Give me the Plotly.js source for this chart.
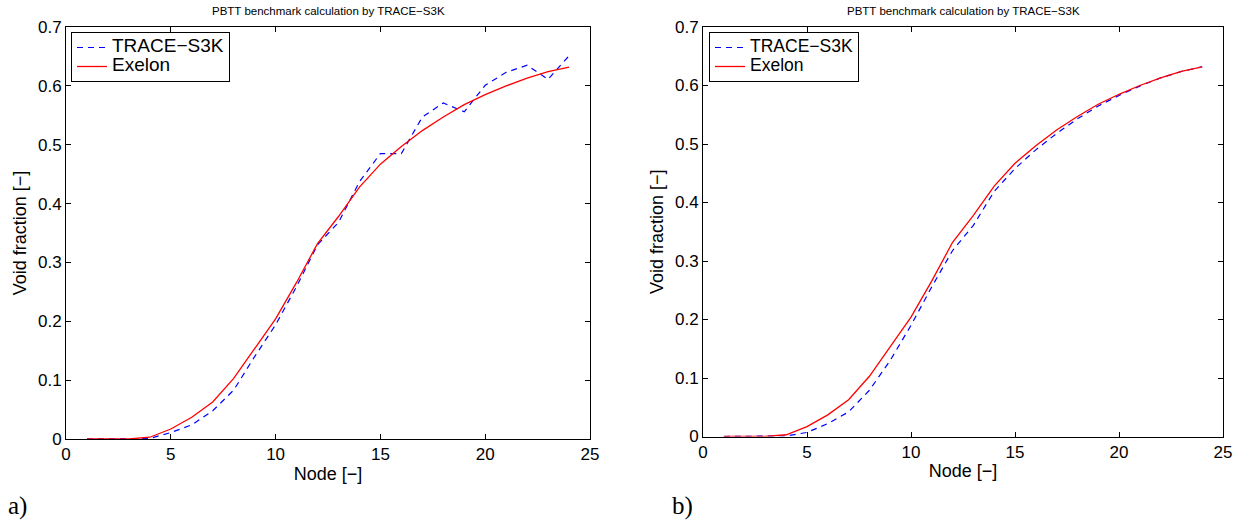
<!DOCTYPE html>
<html>
<head>
<meta charset="utf-8">
<script src="https://cdn.plot.ly/plotly-3.0.1.min.js"></script>
<style>
html,body{margin:0;padding:0;background:#fff;}
#chart{width:1243px;height:525px;}
</style>
</head>
<body>
<div id="chart"></div>
<script>
// Node numbers (x values)
const nodes = [1,2,3,4,5,6,7,8,9,10,11,12,13,14,15,16,17,18,19,20,21,22,23,24];
// Exelon reference void fraction (same in both panels)
const exelon = [0,0,0,0.003,0.017,0.037,0.063,0.103,0.154,0.204,0.266,0.332,0.378,0.428,0.467,0.497,0.524,0.547,0.568,0.585,0.600,0.613,0.624,0.632];
// TRACE-S3K void fraction, panel a)
const traceA = [0,0,0,0.001,0.011,0.024,0.048,0.083,0.140,0.194,0.259,0.330,0.368,0.437,0.485,0.485,0.547,0.571,0.556,0.601,0.623,0.635,0.611,0.651];
// TRACE-S3K void fraction, panel b)
const traceB = [0,0,0,0.001,0.007,0.022,0.042,0.079,0.130,0.190,0.256,0.318,0.361,0.419,0.458,0.490,0.518,0.543,0.565,0.583,0.599,0.613,0.624,0.632];

const seriesNames = ["TRACE−S3K", "Exelon"];
const chartTitle = "PBTT benchmark calculation by TRACE−S3K";
const xTitle = "Node [−]";
const yTitle = "Void fraction [−]";
const panelLabels = ["a)", "b)"];
const xTickVals = [0,5,10,15,20,25];
const yTickVals = [0,0.1,0.2,0.3,0.4,0.5,0.6,0.7];

const FONT = "Liberation Sans, Arial, Helvetica, sans-serif";
const W = 1243, H = 525;
const px = v => v / W;
const py = v => 1 - v / H;

const blueLine = {color: "rgb(0,0,255)", width: 1.2, dash: "6px,5px"};
const redLine = {color: "rgb(255,0,0)", width: 1.3};
const big = (s, size) => '<span style="font-size:' + size + 'px">' + s + '</span>';

const data = [
  {x: nodes, y: traceA, type: "scatter", mode: "lines", name: big(seriesNames[0], 19), line: blueLine, xaxis: "x", yaxis: "y", legend: "legend"},
  {x: nodes, y: exelon, type: "scatter", mode: "lines", name: big(seriesNames[1], 19), line: redLine, xaxis: "x", yaxis: "y", legend: "legend"},
  {x: nodes, y: traceB, type: "scatter", mode: "lines", name: big(seriesNames[0], 17.5), line: blueLine, xaxis: "x2", yaxis: "y2", legend: "legend2"},
  {x: nodes, y: exelon, type: "scatter", mode: "lines", name: big(seriesNames[1], 17.5), line: redLine, xaxis: "x2", yaxis: "y2", legend: "legend2"}
];

function xAxis(domain, anchor) {
  return {
    domain: domain, anchor: anchor, range: [0, 25], tickvals: xTickVals,
    ticks: "inside", ticklen: 5, tickwidth: 1, tickcolor: "#000",
    showline: true, linecolor: "#000", linewidth: 1, mirror: "ticks",
    showgrid: false, zeroline: false,
    tickfont: {family: FONT, size: 17, color: "#000"},
    title: {text: xTitle, font: {family: FONT, size: 18, color: "#000"}, standoff: 3}
  };
}
function yAxis(domain, anchor) {
  return {
    domain: domain, anchor: anchor, range: [0, 0.7], tickvals: yTickVals,
    ticktext: yTickVals.map(v => String(v)),
    ticks: "inside", ticklen: 5, tickwidth: 1, tickcolor: "#000",
    showline: true, linecolor: "#000", linewidth: 1, mirror: "ticks",
    showgrid: false, zeroline: false,
    tickfont: {family: FONT, size: 17, color: "#000"},
    title: {text: yTitle, font: {family: FONT, size: 18, color: "#000"}, standoff: 6}
  };
}

const legendStyle = (x, y) => ({
  x: x, y: y, xanchor: "left", yanchor: "top", xref: "paper", yref: "paper",
  bgcolor: "#fff", bordercolor: "#000", borderwidth: 1,
  font: {family: FONT, size: 12, color: "#000"},
  tracegroupgap: 0, itemwidth: 30
});

const layout = {
  width: W, height: H,
  margin: {l: 0, r: 0, t: 0, b: 0},
  paper_bgcolor: "#fff", plot_bgcolor: "#fff",
  showlegend: true,
  xaxis: xAxis([px(66), px(590)], "y"),
  yaxis: yAxis([py(439), py(27)], "x"),
  xaxis2: xAxis([px(703), px(1223)], "y2"),
  yaxis2: yAxis([py(436.5), py(27)], "x2"),
  legend: legendStyle(px(71), py(32)),
  legend2: legendStyle(px(709), py(32)),
  annotations: [
    {text: chartTitle, xref: "paper", yref: "paper", x: px(328), y: py(11), xanchor: "center", yanchor: "middle", showarrow: false, font: {family: FONT, size: 11.5, color: "#000"}},
    {text: chartTitle, xref: "paper", yref: "paper", x: px(963), y: py(11), xanchor: "center", yanchor: "middle", showarrow: false, font: {family: FONT, size: 11.5, color: "#000"}},
    {text: panelLabels[0], xref: "paper", yref: "paper", x: px(6), y: py(506), xanchor: "left", yanchor: "middle", showarrow: false, font: {family: "Liberation Serif, Times New Roman, serif", size: 25, color: "#000"}},
    {text: panelLabels[1], xref: "paper", yref: "paper", x: px(670), y: py(506), xanchor: "left", yanchor: "middle", showarrow: false, font: {family: "Liberation Serif, Times New Roman, serif", size: 25, color: "#000"}}
  ]
};

Plotly.newPlot("chart", data, layout, {staticPlot: true, displayModeBar: false});
</script>
</body>
</html>
